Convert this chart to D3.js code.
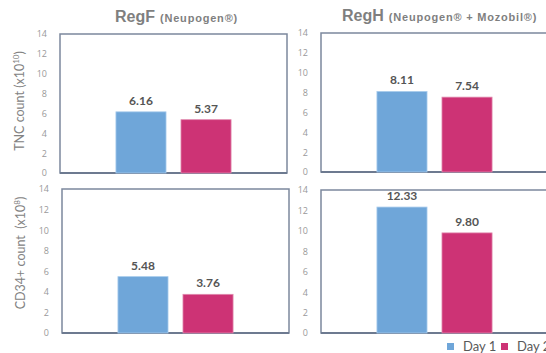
<!DOCTYPE html>
<html><head><meta charset="utf-8">
<script src="https://cdn.jsdelivr.net/npm/d3@7/dist/d3.min.js"></script>
<style>body{margin:0;background:#fff}svg{display:block}</style>
</head><body><svg id="c" width="546" height="353"></svg>
<script>
const categories = ["Day 1", "Day 2"];
const regimens = ["RegF", "RegH"];
const regimenSubtitles = ["(Neupogen®)", "(Neupogen® + Mozobil®)"];
const metrics = ["TNC", "CD34+"];
const tncValues = [[6.16, 5.37], [8.11, 7.54]];
const cd34Values = [[5.48, 3.76], [12.33, 9.80]];
const valueLabels = [[["6.16", "5.37"], ["8.11", "7.54"]], [["5.48", "3.76"], ["12.33", "9.80"]]];
const yTicks = [0, 2, 4, 6, 8, 10, 12, 14];
const colors = ["#6fa6d9", "#cd3375"];

const svg = d3.select("#c");
const panels = [
  {row:0, col:0, x0:60, x1:287, y0:34, y1:173, vals:tncValues[0], labels:valueLabels[0][0]},
  {row:0, col:1, x0:321, x1:548, y0:33, y1:172, vals:tncValues[1], labels:valueLabels[0][1]},
  {row:1, col:0, x0:62, x1:289, y0:189, y1:333, vals:cd34Values[0], labels:valueLabels[1][0]},
  {row:1, col:1, x0:321, x1:548, y0:190, y1:333, vals:cd34Values[1], labels:valueLabels[1][1]}
];

panels.forEach(p => {
  const x = d3.scaleBand().domain(categories).range([p.x0, p.x1]).paddingInner(0.23).paddingOuter(0.86);
  const y = d3.scaleLinear().domain([0, 14]).range([p.y1, p.y0]);
  const g = svg.append("g");
  g.append("rect").attr("x", p.x0).attr("y", p.y0).attr("width", p.x1 - p.x0).attr("height", p.y1 - p.y0)
    .attr("fill", "none").attr("stroke", "#7c889d").attr("stroke-width", 1.5);
  g.append("line").attr("x1", p.x0).attr("x2", p.x1).attr("y1", p.y1).attr("y2", p.y1)
    .attr("stroke", "#6d7a90").attr("stroke-width", 2);
  const ax = g.append("g").attr("transform", `translate(${p.x0 - 13},0)`)
    .call(d3.axisLeft(y).tickValues(yTicks).tickSize(0).tickPadding(0));
  ax.select(".domain").remove();
  ax.selectAll("text").attr("fill", "#999").style("font-family", "'Open Sans', sans-serif").style("font-size", "9px");
  g.selectAll("rect.bar").data(p.vals).join("rect").attr("class", "bar")
    .attr("x", (d, i) => x(categories[i])).attr("width", x.bandwidth())
    .attr("y", d => y(d)).attr("height", d => y(0) - y(d))
    .attr("fill", (d, i) => colors[i])
    .attr("stroke", (d, i) => i === 0 ? "#a8cbec" : "#e08aae").attr("stroke-width", 0.8);
  g.selectAll("text.val").data(p.vals).join("text").attr("class", "val")
    .attr("x", (d, i) => x(categories[i]) + x.bandwidth() / 2).attr("y", d => y(d) - 7)
    .attr("text-anchor", "middle").attr("fill", "#555")
    .style("font-family", "Lato, sans-serif").style("font-weight", "bold").style("font-size", "12px")
    .text((d, i) => p.labels[i]);
});

const titles = [{x:115, y:22, i:0}, {x:342, y:21, i:1}];
titles.forEach(t => {
  const tx = svg.append("text").attr("x", t.x).attr("y", t.y).attr("fill", "#7f7f7f")
    .style("font-family", "'Liberation Sans', Arial, sans-serif").style("font-weight", "bold");
  tx.append("tspan").style("font-size", "16px").text(regimens[t.i]);
  tx.append("tspan").attr("dx", 5).style("font-size", "11px").style("letter-spacing", "0.8px").text(regimenSubtitles[t.i]);
});

const ylabs = [{x:24, y:101, main:"TNC count (x10", sup:"10", end:")"}, {x:25, y:253, main:"CD34+ count  (x10", sup:"8", end:")"}];
ylabs.forEach(l => {
  const t = svg.append("text").attr("transform", `translate(${l.x},${l.y}) rotate(-90)`)
    .attr("text-anchor", "middle").attr("fill", "#828282")
    .style("font-family", "Lato, sans-serif").style("font-size", "12.5px").style("white-space", "pre");
  t.append("tspan").text(l.main);
  t.append("tspan").attr("dy", -5).style("font-size", "8px").text(l.sup);
  t.append("tspan").attr("dy", 5).text(l.end);
});

const leg = svg.append("g");
const legX = [447, 501];
categories.forEach((c, i) => {
  leg.append("rect").attr("x", legX[i]).attr("y", 343).attr("width", 7).attr("height", 7).attr("fill", colors[i]);
  leg.append("text").attr("x", legX[i] + 16).attr("y", 351).attr("fill", "#595959")
    .style("font-family", "Lato, sans-serif").style("font-size", "13px").text(c);
});
</script></body></html>
